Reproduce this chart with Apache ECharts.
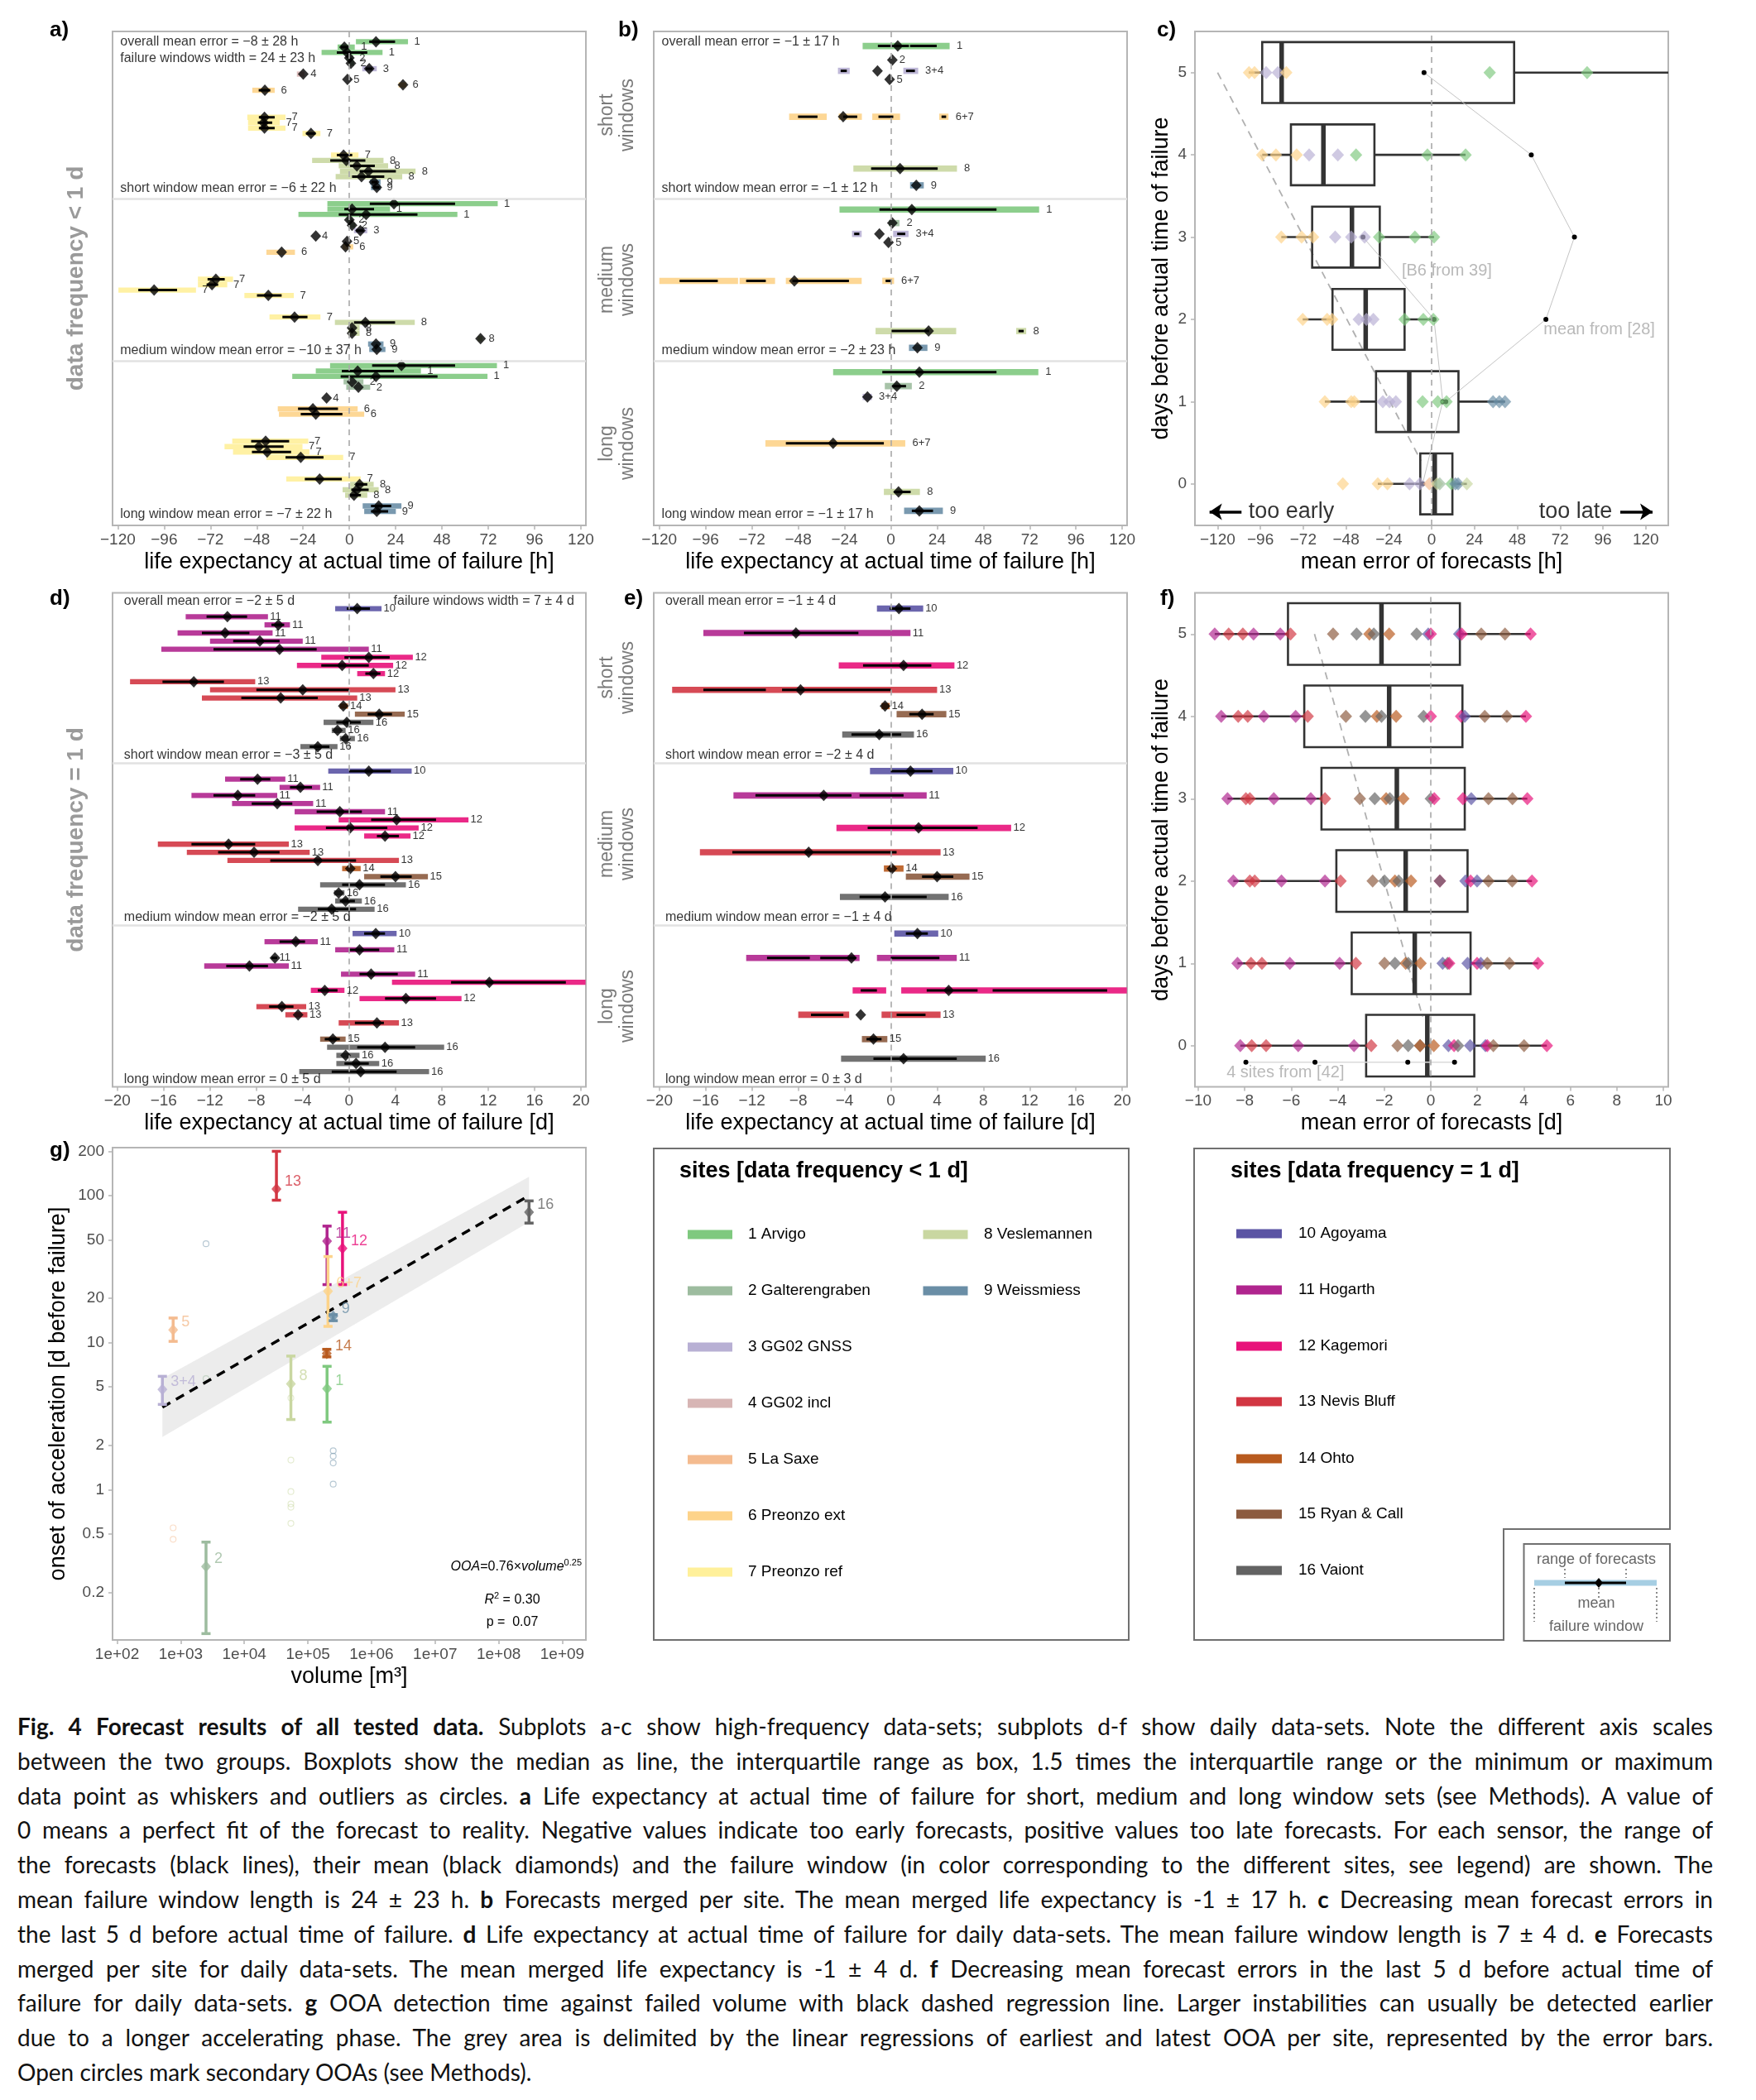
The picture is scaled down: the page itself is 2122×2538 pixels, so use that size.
<!DOCTYPE html>
<html><head><meta charset="utf-8">
<script src="https://cdn.jsdelivr.net/npm/echarts@6/dist/echarts.min.js"></script>
<style>
html,body{margin:0;padding:0;background:#fff;}
#chart{width:2122px;height:2060px;}
#caption{position:absolute;left:21px;top:2066px;width:2049px;font-family:Lato,"Liberation Sans",sans-serif;font-size:28px;line-height:41.8px;color:#111;}
#caption div{text-align:justify;text-align-last:justify;}
#caption div.last{text-align:left;text-align-last:left;}
</style></head><body>
<div id="chart"></div>
<div id="caption">
<div><b>Fig. 4 Forecast results of all tested data.</b> Subplots a-c show high-frequency data-sets; subplots d-f show daily data-sets. Note the different axis scales</div>
<div>between the two groups. Boxplots show the median as line, the interquartile range as box, 1.5 times the interquartile range or the minimum or maximum</div>
<div>data point as whiskers and outliers as circles. <b>a</b> Life expectancy at actual time of failure for short, medium and long window sets (see Methods). A value of</div>
<div>0 means a perfect fit of the forecast to reality. Negative values indicate too early forecasts, positive values too late forecasts. For each sensor, the range of</div>
<div>the forecasts (black lines), their mean (black diamonds) and the failure window (in color corresponding to the different sites, see legend) are shown. The</div>
<div>mean failure window length is 24 ± 23 h. <b>b</b> Forecasts merged per site. The mean merged life expectancy is -1 ± 17 h. <b>c</b> Decreasing mean forecast errors in</div>
<div>the last 5 d before actual time of failure. <b>d</b> Life expectancy at actual time of failure for daily data-sets. The mean failure window length is 7 ± 4 d. <b>e</b> Forecasts</div>
<div>merged per site for daily data-sets. The mean merged life expectancy is -1 ± 4 d. <b>f</b> Decreasing mean forecast errors in the last 5 d before actual time of</div>
<div>failure for daily data-sets. <b>g</b> OOA detection time against failed volume with black dashed regression line. Larger instabilities can usually be detected earlier</div>
<div>due to a longer accelerating phase. The grey area is delimited by the linear regressions of earliest and latest OOA per site, represented by the error bars.</div>
<div class="last">Open circles mark secondary OOAs (see Methods).</div>
</div>
<script>
// ---------------- DATA ----------------
const siteColors = {1:'#7fc97f',2:'#9dbc9f',3:'#b8b0d4',4:'#d7b5b4',5:'#f4bb8f',6:'#fdd38a',7:'#fff09a',8:'#c9d7a1',9:'#6a8ea6',
  10:'#5b54a4',11:'#b0258e',12:'#e8127a',13:'#d23642',14:'#b85a1e',15:'#8c5b3f',16:'#636363'};
const sitesHigh = ['1 Arvigo','2 Galterengraben','3 GG02 GNSS','4 GG02 incl','5 La Saxe','6 Preonzo ext','7 Preonzo ref','8 Veslemannen','9 Weissmiess'];
const sitesDaily = ['10 Agoyama','11 Hogarth','12 Kagemori','13 Nevis Bluff','14 Ohto','15 Ryan & Call','16 Vaiont'];
const hTicks = [-120,-96,-72,-48,-24,0,24,48,72,96,120];
const dTicks = [-20,-16,-12,-8,-4,0,4,8,12,16,20];
const fTicks = [-10,-8,-6,-4,-2,0,2,4,6,8,10];
const dayTicks = [0,1,2,3,4,5];
const gxTicks = [2,3,4,5,6,7,8,9];
const gyTickVals = [0.2,0.5,1,2,5,10,20,50,100,200];

// panel a rows: [row, site, windowLo, windowHi, forecastLo, forecastHi, mean]
const aRows = [
 [0,1,3.4,30.4,10.3,23.7,13.8],[1,1,-6.1,2.8,-4.5,-0.5,-2.6],[2,1,-14.4,17.2,-6.5,9.3,-1.2],
 [3,2,-1.5,2.0,null,null,0],[4,2,-0.5,2.5,null,null,0.8],[5,3,6.7,14.2,8.5,12,10.3],
 [6,4,-27.2,-23.3,null,null,-23.9],[7,5,null,null,null,null,-1],[8,6,25.5,29.5,null,null,27.8],
 [9,6,-50.3,-38.7,-47,-41,-43.8],[14,7,-52.9,-33.1,-46.9,-38.7,-44],[15,7,-52.5,-36.1,-47.5,-40,-44.4],
 [16,7,-52.5,-33.1,-46.9,-38.7,-44],[17,7,-24.3,-15,-22.5,-17.5,-19.9],[21,7,-9.5,4.7,-6.5,1.5,-3],
 [22,8,-19.3,17.7,-9.9,8.3,-1.6],[23,8,-5.5,20.1,0.4,13.2,3.9],[24,8,-4.9,34.3,5.3,24.1,9.9],
 [25,8,-7.1,27.4,1.4,18.1,6.3],[26,9,10.6,16.2,11.5,14.5,12.8],[27,9,11.2,16.2,12.5,15.5,14.2],
 [30,1,-11.4,76.9,10.6,54.8,23.1],[31,1,-11.4,21.1,-2.6,12.8,1.4],[32,1,-26.4,56,-5.5,35.3,8.7],
 [33,2,-1.2,1.5,null,null,0],[34,2,-0.5,3,null,null,1.4],[35,3,2.4,9.3,3.5,7.5,5.7],
 [36,4,null,null,null,null,-17.4],[37,5,null,null,null,null,-1.2],[38,6,-3.5,2.0,null,null,-2],
 [39,6,-43,-28.2,null,null,-35.1],[44,7,-78.5,-60.3,-73.5,-64.6,-69.2],[45,7,-78.5,-63.3,-74,-68,-71.2],
 [46,7,-119.7,-79.5,-109.4,-89.3,-101.2],[47,7,-54.4,-28.8,-47.9,-35.1,-42],[51,7,-41.4,-15,-34.7,-21.7,-28.4],
 [52,8,-7.5,33.9,2.4,23.7,8.3],[53,8,-0.6,5.3,null,null,1.4],[54,8,-0.6,5.3,null,null,1.4],
 [55,8,66.5,69,null,null,68],[56,9,9.7,17.7,null,null,13.8],[57,9,10.3,18.7,null,null,14.2],
 [60,1,-10,76.5,11.8,54.8,27],[61,1,-17.4,37.1,-3.9,23.1,4.3],[62,1,-29.6,71.6,-4.5,45.7,13.8],
 [63,2,-3,7.3,null,null,1.4],[64,2,-1.6,10.8,null,null,4.7],[66,4,null,null,null,null,-11.8],
 [68,6,-37.1,4.3,-26.6,-5.9,-18.9],[69,6,-36.5,7.7,-25.2,-3.6,-17.4],[74,7,-60.7,-21.3,-50.9,-31.2,-43.4],
 [75,7,-64.7,-24.3,-54.8,-34.1,-46.9],[76,7,-60.3,-20.7,-50.5,-30.2,-42.6],[77,7,-43,-3.2,-33.1,-13.4,-25.2],
 [81,7,-32.7,5.9,-23.1,-3.9,-15.4],[82,8,0.4,12.6,3.4,9.3,5.3],[83,8,-3.5,15.2,1,10,3.9],
 [84,8,-2.2,9.3,0,6,2.4],[86,9,6.9,27,11.2,21.7,15.2],[87,9,7.7,24.1,11.2,20.1,14.2]
];
const aSections = [29.1, 59.2];
const aTexts = [[-119,0,'overall mean error = \u22128 \u00b1 28 h'],[-119,3.1,'failure windows width = 24 \u00b1 23 h'],
 [-119,27.1,'short window mean error = \u22126 \u00b1 22 h'],[-119,57.2,'medium window mean error = \u221210 \u00b1 37 h'],
 [-119,87.5,'long window mean error = \u22127 \u00b1 22 h']];

// panel b: windows [row, site, lo, hi], ranges [row, lo, hi], means [row, mean, label]
const bWindows = [
 [0.8,1,-14.6,30.5],[5.4,3,-27.4,-21.3],[5.4,3,6.5,14.2],[13.9,6,-52.7,-33.2],[13.9,6,-27,-15],[13.9,6,-9.6,4.8],[13.9,6,25.1,29.9],
 [23.5,8,-19.4,34.3],[26.6,9,10,17.1],
 [31.1,1,-26.6,76.9],[33.6,2,-1,4.5],[35.6,3,-20.1,-15.1],[35.6,3,1.2,9.2],[44.3,6,-120,-79.2],[44.3,6,-78.4,-60],[44.3,6,-54.4,-15.1],[44.3,6,-4.4,1.7],
 [53.6,8,-7.9,33.9],[53.6,8,65,70.2],[56.7,9,9.4,19],
 [61.2,1,-29.9,76.5],[63.8,2,-3.1,10.9],[65.8,3,-14.6,-9.8],[74.4,6,-65,7.5],[83.4,8,-3.6,15.1],[86.9,9,6.9,27]
];
const bRanges = [
 [0.8,-6.7,9.4],[0.8,10,23.8],[5.4,-26,-22.8],[5.4,7.9,12.5],[13.9,-48.1,-38],[13.9,-24.7,-17.4],[13.9,-6.4,1.3],[13.9,26.3,28.7],
 [23.5,-10.2,24.3],[31.1,-5.9,54.8],[35.6,-19,-16.3],[35.6,3.3,7.5],[44.3,-109.5,-89.7],[44.3,-75,-64.8],[44.3,-51,-21.7],[44.3,-2.7,0.2],
 [53.6,0.4,19.9],[53.6,66.2,68.9],[61.2,-4.4,54.8],[63.8,0.8,7.9],[74.4,-54.4,-3.6],[83.4,1.7,10.3],[86.9,10.9,21.9]
];
const bMeans = [
 [0.8,3.6,'1'],[3.4,0.8,'2'],[5.4,-6.9,'3+4'],[7.0,-0.6,'5'],[13.9,-24.7,'6+7'],[23.5,4.8,'8'],[26.6,13.2,'9'],
 [31.1,10.9,'1'],[33.6,0.8,'2'],[35.6,-5.9,'3+4'],[37.2,-1.2,'5'],[44.3,-50,'6+7'],[53.6,19.6,'8'],[56.7,13.8,'9'],
 [61.2,14.8,'1'],[63.8,3.1,'2'],[65.8,-12.1,'3+4'],[74.4,-29.9,'6+7'],[83.4,4,'8'],[86.9,14.8,'9']
];
const bTexts = [[-119,0,'overall mean error = \u22121 \u00b1 17 h'],[-119,27.1,'short window mean error = \u22121 \u00b1 12 h'],
 [-119,57.2,'medium window mean error = \u22122 \u00b1 23 h'],[-119,87.5,'long window mean error = \u22121 \u00b1 17 h']];

// panel c: boxes [day, min, q1, median, q3, max], points [day, error, site]
const cBoxes = [[5,-102.5,-95,-84.1,46.2,150],[4,-95,-78.9,-60.7,-32.1,19],[3,-84.3,-67,-44.7,-29.1,1.3],
 [2,-72.3,-55.6,-37,-15.2,1.3],[1,-59.9,-31.2,-12.6,15,41.1],[0,-30.2,-6.4,1.7,11.6,19.7]];
const cPoints = [
 [5,-102.4,6],[5,-99.3,6],[5,-92.8,3],[5,-86.2,3],[5,-81.5,6],[5,32.5,1],[5,87.1,1],
 [4,-95,6],[4,-87.3,6],[4,-75.7,6],[4,-68.7,3],[4,-52.6,3],[4,-42.4,1],[4,-2.4,1],[4,19,1],
 [3,-84.3,6],[3,-72.9,6],[3,-66.5,6],[3,-54.1,3],[3,-45.1,3],[3,-37.6,3],[3,-29.5,1],[3,-9.4,1],[3,1.3,1],
 [2,-72.3,6],[2,-58.6,6],[2,-55.8,6],[2,-40.9,3],[2,-36.6,3],[2,-32.7,3],[2,-15.2,1],[2,-4.7,1],[2,0.9,1],
 [1,-59.9,6],[1,-45.1,6],[1,-43.4,6],[1,-27.4,3],[1,-23.7,3],[1,-20.1,3],[1,-5.1,1],[1,3.4,1],[1,8.3,1],[1,34.4,9],[1,37.9,9],[1,41.1,9],
 [0,-49.8,6],[0,-30.2,6],[0,-24.8,6],[0,-12.4,3],[0,-6.6,3],[0,-1.3,5],[0,3,8],[0,4.5,2],[0,11.1,1],[0,13.3,9],[0,14.8,9],[0,19.7,8]
];
const cMean28 = [[-4.3,5],[55.8,4],[80,3],[64,2],[7.9,1]];
const cB6 = [[-38.5,3],[1.3,2],[6.2,1],[-5.1,0]];
const cTrend = [[-120,5],[-6,0.28]];

// panel d rows: [row, site, windowLo, windowHi, forecastLo, forecastHi, mean]
const dRows = [
 [0,10,-1.2,2.8,-0.2,1.8,0.7],[1,11,-14.1,-7.0,-12.3,-8.8,-10.5],[2,11,-7.3,-5.1,-6.7,-5.6,-6.1],[3,11,-14.8,-6.6,-12.7,-8.6,-10.7],
 [4,11,-12,-4,-10,-6,-7.7],[5,11,-16.2,1.7,-11.7,-2.8,-6],[6,12,-2.4,5.5,-0.4,3.5,1.7],[7,12,-4.5,3.8,-2.4,1.7,-0.6],
 [8,12,0.7,3.1,1.4,2.7,2.1],[9,13,-18.9,-8.1,-16.1,-10.8,-13.4],[10,13,-12,4,-8,0,-4],[11,13,-12.7,0.7,-9.3,-2.7,-5.9],
 [12,14,-0.8,-0.1,null,null,-0.5],[13,15,0.5,4.8,1.6,3.7,2.6],[14,16,-2.2,2.1,-1.1,1.0,-0.2],[15,16,-1.5,-0.3,null,null,-1],
 [16,16,-0.8,0.5,null,null,-0.3],[17,16,-4.2,-1,-3.4,-1.7,-2.7],
 [20,10,-1.8,5.4,0,3.6,1.7],[21,11,-10.7,-5.5,-9.4,-6.8,-7.9],[22,11,-6,-2.5,-5.1,-3.2,-4.2],[23,11,-13.6,-6.2,-11.7,-8.1,-9.6],
 [24,11,-10.1,-3.1,-8.4,-4.9,-6.2],[25,11,-4.7,3.1,-2.8,1.1,-0.8],[26,12,-0.9,10.3,1.9,7.5,4.1],[27,12,-4.7,6,-2,3.3,0.1],
 [28,12,1.3,5.3,2.4,4.3,3.1],[29,13,-16.5,-5.2,-13.6,-8.1,-10.4],[30,13,-14,-3.4,-11.3,-6,-8.2],[31,13,-10.5,4.3,-6.8,0.6,-2.7],
 [32,14,-0.6,1,null,null,0.1],[33,15,1.3,6.8,2.7,5.4,4],[34,16,-2.5,4.9,-0.6,3.1,0.9],[35,16,-1.3,-0.4,null,null,-0.9],
 [36,16,-1.2,1.1,-0.8,0.5,-0.3],[37,16,-4.4,2.2,-2.7,0.6,-1.5],
 [40,10,0.3,4.1,1.3,3.1,2.3],[41,11,-7.3,-2.7,-6,-3.8,-4.6],[42,11,-1.2,3.9,0,2.6,0.9],[43,11,null,null,-6.7,-6.2,-6.4],
 [44,11,-12.5,-5.2,-10.6,-7,-8.6],[45,11,-0.7,5.7,0.9,4.2,1.9],[46,12,3.7,20.4,8.8,18.7,12.1],[47,12,-3.3,-0.4,-2.7,-1,-2.1],
 [48,12,0.9,9.7,3.1,7.5,4.9],[49,13,-8,-3.7,-6.9,-4.8,-5.8],[50,13,-5.5,-3.6,null,null,-4.4],[51,13,-0.9,4.3,0.5,3,2.4],
 [53,15,-2.5,-0.3,-2.1,-0.8,-1.4],[54,16,-1.9,8.2,0.7,5.7,3.1],[55,16,-1.1,0.9,null,null,-0.3],[56,16,-1.1,2.6,-0.4,1.7,0.6],
 [57,16,-4.3,6.9,-1.5,4.1,1]
];
const dSections = [19, 39];
const dTexts = [[-19.46,-0.9,'overall mean error = \u22122 \u00b1 5 d'],[-19.46,18,'short window mean error = \u22123 \u00b1 5 d'],
 [-19.46,38,'medium window mean error = \u22122 \u00b1 5 d'],[-19.46,58,'long window mean error = 0 \u00b1 5 d']];
const dTextsRight = [[19.45,-0.9,'failure windows width = 7 \u00b1 4 d']];

// panel e
const eWindows = [
 [0,10,-1.2,2.8],[3,11,-16.2,1.7],[7,12,-4.5,5.5],[10,13,-18.9,4],[12,14,-0.8,-0.1],[13,15,0.5,4.8],[15.5,16,-4.2,2],
 [20,10,-1.8,5.4],[23,11,-13.6,3.1],[27,12,-4.7,10.4],[30,13,-16.5,4.3],[32,14,-0.6,1.1],[33,15,1.3,6.8],[35.5,16,-4.4,5],
 [40,10,0.3,4.1],[43,11,-12.5,-2.7],[43,11,-1.2,5.7],[47,12,-3.3,-0.4],[47,12,0.9,20.4],[50,13,-8,-3.6],[50,13,-0.8,4.3],
 [53,15,-2.5,-0.3],[55.4,16,-4.3,8.2]
];
const eRanges = [
 [0,-0.1,1.7],[3,-12.7,-2.8],[7,-2.4,3.5],[10,-16.2,-10.8],[10,-9.4,0],[13,1.6,3.7],[15.5,-3.4,0.9],
 [20,0,3.6],[23,-11.7,-3.4],[23,-2.7,1.1],[27,-2,7.5],[30,-13.7,0.5],[33,2.7,5.4],[35.5,-2.7,3.1],
 [40,1.3,3.2],[43,-10.7,-7],[43,-6.1,-3],[43,0,4.2],[47,-2.6,-1.2],[47,3.1,7.5],[47,8.8,18.7],[50,-6.9,-4.1],[50,0.5,3],
 [53,-2.1,-0.8],[55.4,-1.5,5.7]
];
const eMeans = [
 [0,0.7,'10'],[3,-8.2,'11'],[7,1.1,'12'],[10,-7.8,'13'],[12,-0.5,'14'],[13,2.7,'15'],[15.5,-1,'16'],
 [20,1.7,'10'],[23,-5.8,'11'],[27,2.4,'12'],[30,-7.1,'13'],[32,0.1,'14'],[33,4,'15'],[35.5,-0.5,'16'],
 [40,2.3,'10'],[43,-3.4,'11'],[47,5,'12'],[50,-2.6,'13'],[53,-1.5,'15'],[55.4,1.1,'16']
];
const eTexts = [[-19.53,-0.9,'overall mean error = \u22121 \u00b1 4 d'],[-19.53,18,'short window mean error = \u22122 \u00b1 4 d'],
 [-19.53,38,'medium window mean error = \u22121 \u00b1 4 d'],[-19.53,58,'long window mean error = 0 \u00b1 3 d']];

// panel f
const fBoxes = [[5,-9.29,-6.14,-2.12,1.25,4.29],[4,-9.01,-5.44,-1.79,1.36,4.09],[3,-8.74,-4.7,-1.46,1.46,4.15],
 [2,-8.49,-4.06,-1.08,1.58,4.35],[1,-8.31,-3.4,-0.69,1.71,4.61],[0,-8.19,-2.78,-0.15,1.87,4.99]];
const fPoints = [
 [5,-9.29,11],[5,-8.69,13],[5,-8.08,13],[5,-7.62,11],[5,-6.47,11],[5,-6.03,13],[5,-4.2,15],[5,-3.19,16],[5,-2.64,14],[5,-2.45,16],[5,-1.79,14],[5,-0.61,16],[5,-0.11,10],[5,0,12],[5,1.22,10],[5,1.33,12],[5,2.17,15],[5,3.19,15],[5,4.29,12],
 [4,-9.01,11],[4,-8.28,13],[4,-7.87,13],[4,-7.18,11],[4,-5.81,11],[4,-5.29,13],[4,-3.65,15],[4,-2.81,16],[4,-2.32,14],[4,-2.12,16],[4,-1.49,14],[4,-0.31,16],[4,0,12],[4,1.3,12],[4,1.46,10],[4,2.32,15],[4,3.27,15],[4,4.09,12],
 [3,-8.74,11],[3,-7.95,13],[3,-7.78,13],[3,-6.75,11],[3,-5.16,11],[3,-4.55,13],[3,-3.05,15],[3,-2.41,16],[3,-1.92,14],[3,-1.76,16],[3,-1.18,14],[3,0,16],[3,0.15,12],[3,1.38,12],[3,1.74,10],[3,2.48,15],[3,3.51,15],[3,4.15,12],
 [2,-8.49,11],[2,-7.78,13],[2,-7.57,13],[2,-6.42,11],[2,-4.55,11],[2,-3.88,13],[2,-2.5,15],[2,-1.99,16],[2,-1.54,14],[2,-1.38,16],[2,-0.85,14],[2,0.39,12],[2,0.39,16],[2,1.49,10],[2,1.71,12],[2,1.99,10],[2,2.48,15],[2,3.5,15],[2,4.35,12],
 [1,-8.31,11],[1,-7.73,13],[1,-7.26,13],[1,-6.06,11],[1,-3.92,11],[1,-3.22,13],[1,-1.99,15],[1,-1.54,16],[1,-1.08,14],[1,-0.97,16],[1,-0.44,14],[1,0.51,10],[1,0.72,16],[1,0.79,12],[1,1.58,10],[1,1.99,12],[1,2.15,10],[1,2.43,15],[1,3.38,15],[1,4.61,12],
 [0,-8.19,11],[0,-7.7,13],[0,-7.08,13],[0,-5.7,11],[0,-3.3,11],[0,-2.56,13],[0,-1.43,15],[0,-0.97,16],[0,-0.46,16],[0,-0.46,14],[0,0.13,14],[0,0.76,10],[0,1.0,12],[0,1.17,16],[0,1.69,10],[0,2.35,10],[0,2.43,12],[0,2.69,15],[0,4.01,15],[0,4.99,12]
];
const fSites42 = [[-7.95,-0.2],[-4.98,-0.2],[-0.99,-0.2],[1.02,-0.2]];
const fTrend = [[-5,5],[-0.35,0.35]];

// panel g: [label, site, volume m3, OOA d, earliest, latest]
const gSites = [
 ['13',13,3.2e4,111,93,200],['11',11,2.0e5,49,24.8,62],['12',12,3.5e5,43.8,24.8,77],['6+7',6,2.07e5,22.4,12.9,38.5],
 ['9',9,2.5e5,15.1,14.1,15.5],['5',5,760,12.2,10.2,14.7],['14',14,1.98e5,8.45,8.0,9.0],['3+4',3,515,4.8,3.8,5.9],
 ['8',8,5.4e4,5.25,3.0,8.1],['1',1,2.0e5,4.86,2.88,6.9],['2',2,2.5e3,0.3,0.105,0.44],['16',16,3.0e8,77,65,92]
];
// secondary OOAs: [volume, OOA, site]
const gSecondary = [[2.5e3,47,9],[2.5e3,5.7,2],[760,0.55,5],[760,0.46,5],
 [5.4e4,4.2,8],[5.4e4,1.59,8],[5.4e4,0.97,8],[5.4e4,0.8,8],[5.4e4,0.76,8],[5.4e4,0.59,8],
 [2.5e5,1.84,9],[2.5e5,1.69,9],[2.5e5,1.52,9],[2.5e5,1.09,9]];
const gFit = [[515,3.64],[3.0e8,100]];
const gBand = [[515,2.28,5.7],[3.0e8,66,134]];

// ---------------- HELPERS ----------------
const FONT = '"Liberation Sans", Arial, Helvetica, sans-serif';
const L10 = Math.log10;
function rgba(hex, a){const n=parseInt(hex.slice(1),16);return 'rgba('+(n>>16&255)+','+(n>>8&255)+','+(n&255)+','+a+')';}
const minus = v => { const r = Math.round(v*100)/100; return r < 0 ? '\u2212' + (-r) : String(r); };

const TOP1 = 38, TOP2 = 716.5, TOP3 = 1387, PH = 597;
const grids = [
 {left:136, top:TOP1, width:572, height:PH},
 {left:790, top:TOP1, width:572, height:PH},
 {left:1444, top:TOP1, width:572, height:PH},
 {left:136, top:TOP2, width:572, height:PH},
 {left:790, top:TOP2, width:572, height:PH},
 {left:1444, top:TOP2, width:572, height:PH},
 {left:136, top:TOP3, width:572, height:595}
].map(g => Object.assign({show:true, borderColor:'#b5b5b5', borderWidth:2, backgroundColor:'transparent'}, g));

function xAx(gi, min, max, ticks, fmt, name, gap){
  return {type:'value', gridIndex:gi, min, max, position:'bottom', axisLine:{show:false, onZero:false}, splitLine:{show:false},
    axisTick:{show:true, customValues:ticks, length:5, lineStyle:{color:'#b5b5b5', width:1.5}},
    axisLabel:{customValues:ticks, formatter:fmt, fontSize:19, color:'#4d4d4d', margin:8, fontFamily:FONT},
    name, nameLocation:'middle', nameGap:gap, nameTextStyle:{fontSize:27, color:'#000', fontFamily:FONT}};
}
function rowAx(gi, min, max, name){
  return {type:'value', gridIndex:gi, inverse:true, min, max, position:'left', axisLine:{show:false, onZero:false}, axisTick:{show:false},
    axisLabel:{show:false}, splitLine:{show:false}, name: name || '', nameLocation:'middle', nameGap:30,
    nameTextStyle:{fontSize:28, fontWeight:'bold', color:'#9a9a9a', fontFamily:FONT}};
}
function dayAx(gi, name, gap, ticks, fmt, min, max){
  return {type:'value', gridIndex:gi, min, max, position:'left', axisLine:{show:false, onZero:false}, splitLine:{show:false},
    axisTick:{show:true, customValues:ticks, length:5, lineStyle:{color:'#b5b5b5', width:1.5}},
    axisLabel:{customValues:ticks, formatter:fmt, fontSize:19, color:'#4d4d4d', margin:10, fontFamily:FONT},
    name, nameLocation:'middle', nameGap:gap, nameTextStyle:{fontSize:27, color:'#000', fontFamily:FONT}};
}

function hbarRender(height, colorFn){
  return function(params, api){
    const row = api.value(0), lo = api.value(2), hi = api.value(3);
    const p1 = api.coord([lo, row]), p2 = api.coord([hi, row]);
    const cs = params.coordSys;
    const r = echarts.graphic.clipRectByRect({x:Math.min(p1[0],p2[0]), y:p1[1]-height/2, width:Math.abs(p2[0]-p1[0]), height},
      {x:cs.x, y:cs.y, width:cs.width, height:cs.height});
    if (!r) return null;
    return {type:'rect', shape:r, style:{fill:colorFn(api.value(1))}};
  };
}
function windowSeries(gi, data, h){
  return {type:'custom', xAxisIndex:gi, yAxisIndex:gi, silent:true, z:2, encode:{x:[2,3], y:0}, data,
    renderItem:hbarRender(h, s => rgba(siteColors[s], 0.9))};
}
function rangeSeries(gi, data){
  return {type:'custom', xAxisIndex:gi, yAxisIndex:gi, silent:true, z:3, encode:{x:[2,3], y:0},
    data: data.map(r => [r[0], 0, r[1], r[2]]), renderItem:hbarRender(3, () => '#000')};
}
function diamondSeries(gi, data, size){
  return {type:'scatter', xAxisIndex:gi, yAxisIndex:gi, silent:true, z:4, symbol:'diamond', symbolSize:[size, size+1],
    itemStyle:{color:'#000'}, data};
}
function labelSeries(gi, data, fontSize, dist, pos, color){
  return {type:'scatter', xAxisIndex:gi, yAxisIndex:gi, silent:true, z:5, symbolSize:1, itemStyle:{color:'transparent'},
    data, label:{show:true, position:pos||'right', distance:dist, fontSize, color:color||'#000', fontFamily:FONT,
      formatter:p => p.value[2]}};
}
function refLines(gi, xZero, ySections){
  const d = [];
  if (xZero) d.push({xAxis:0, lineStyle:{type:[7,6], color:'#a8a8a8', width:1.6}});
  (ySections||[]).forEach(y => d.push({yAxis:y, lineStyle:{type:'solid', color:'#e2e2e2', width:2.5}}));
  return {type:'scatter', xAxisIndex:gi, yAxisIndex:gi, silent:true, z:1, symbolSize:0, data:[],
    markLine:{silent:true, symbol:'none', label:{show:false}, data:d, animation:false}};
}
function boxSeries(gi, data, half){
  return {type:'custom', xAxisIndex:gi, yAxisIndex:gi, silent:true, z:2, clip:true, encode:{x:[1,5], y:0}, data,
    renderItem:function(params, api){
      const y = api.value(0);
      const pMin = api.coord([api.value(1), y]), pQ1 = api.coord([api.value(2), y]), pMd = api.coord([api.value(3), y]);
      const pQ3 = api.coord([api.value(4), y]), pMax = api.coord([api.value(5), y]);
      const hh = api.size([0, half*2])[1] / 2;
      const st = {stroke:'#333', lineWidth:2.6, fill:null};
      return {type:'group', children:[
        {type:'line', shape:{x1:pMin[0], y1:pMin[1], x2:pQ1[0], y2:pQ1[1]}, style:st},
        {type:'line', shape:{x1:pQ3[0], y1:pQ3[1], x2:pMax[0], y2:pMax[1]}, style:st},
        {type:'rect', shape:{x:pQ1[0], y:pQ1[1]-hh, width:pQ3[0]-pQ1[0], height:2*hh}, style:{stroke:'#333', lineWidth:2.6, fill:'none'}},
        {type:'line', shape:{x1:pMd[0], y1:pMd[1]-hh, x2:pMd[0], y2:pMd[1]+hh}, style:{stroke:'#333', lineWidth:5.5}}
      ]};
    }};
}
function coloredDiamonds(gi, pts, size, alpha){
  return {type:'scatter', xAxisIndex:gi, yAxisIndex:gi, silent:true, z:4, symbol:'diamond', symbolSize:[size, size+1],
    data: pts.map(p => ({value:[p[1], p[0]], itemStyle:{color:rgba(siteColors[p[2]], alpha)}}))};
}
function rowPanel(gi, rows, h, dsize, lDist, xMaxLabel){
  const win = rows.filter(r => r[2] != null).map(r => [r[0], r[1], r[2], r[3]]);
  const rng = rows.filter(r => r[4] != null).map(r => [r[0], r[4], r[5]]);
  const means = rows.map(r => [r[6], r[0]]);
  const labels = rows.map(r => { const xs = [r[3], r[5], r[6]].filter(v => v != null); return [Math.max.apply(null, xs), r[0], String(r[1])]; })
    .filter(l => l[0] < xMaxLabel);
  return [windowSeries(gi, win, h), rangeSeries(gi, rng), diamondSeries(gi, means, dsize), labelSeries(gi, labels, 13, lDist)];
}
function mergedPanel(gi, wins, rngs, means, h, dsize, lDist, xMaxLabel){
  const labels = means.map(m => {
    let x = m[1];
    wins.forEach(w => { if (w[0] === m[0]) x = Math.max(x, w[3]); });
    rngs.forEach(r => { if (r[0] === m[0]) x = Math.max(x, r[2]); });
    return [x, m[0], m[2]];
  }).filter(l => l[0] < xMaxLabel);
  return [windowSeries(gi, wins, h), rangeSeries(gi, rngs), diamondSeries(gi, means.map(m => [m[1], m[0]]), dsize), labelSeries(gi, labels, 13, lDist)];
}

// ---------------- OPTION ----------------
const hFmt = v => minus(v);
const gxFmt = v => { const k = Math.round(v); return '1e+' + (k < 10 ? '0' : '') + k; };
const gyFmt = v => { let best = gyTickVals[0]; gyTickVals.forEach(g => { if (Math.abs(L10(g) - v) < Math.abs(L10(best) - v)) best = g; }); return String(best); };

const xAxes = [
  xAx(0, -122.75, 122.6, hTicks, hFmt, 'life expectancy at actual time of failure [h]', 31),
  xAx(1, -122.9, 122.5, hTicks, hFmt, 'life expectancy at actual time of failure [h]', 31),
  xAx(2, -132.7, 132.6, hTicks, hFmt, 'mean error of forecasts [h]', 31),
  xAx(3, -20.41, 20.43, dTicks, hFmt, 'life expectancy at actual time of failure [d]', 31),
  xAx(4, -20.49, 20.42, dTicks, hFmt, 'life expectancy at actual time of failure [d]', 31),
  xAx(5, -10.14, 10.21, fTicks, hFmt, 'mean error of forecasts [d]', 31),
  xAx(6, 1.928, 9.371, gxTicks, gxFmt, 'volume [m\u00b3]', 31)
];
const yAxes = [
  rowAx(0, -1.9, 89.6, 'data frequency < 1 d'),
  rowAx(1, -1.9, 89.6, ''),
  dayAx(2, 'days before actual time of failure', 27, dayTicks, v => String(Math.round(v)), -0.505, 5.5),
  rowAx(3, -1.94, 58.87, 'data frequency = 1 d'),
  rowAx(4, -1.94, 58.87, ''),
  dayAx(5, 'days before actual time of failure', 27, dayTicks, v => String(Math.round(v)), -0.5, 5.5),
  dayAx(6, 'onset of acceleration [d before failure]', 52, gyTickVals.map(L10), gyFmt, -1.022, 2.326)
];

let series = [];
// a
series.push(refLines(0, true, aSections));
series = series.concat(rowPanel(0, aRows, 6.3, 13, 7, 200));
series.push(labelSeries(0, aTexts, 16, 0));
// b
series.push(refLines(1, true, aSections));
series = series.concat(mergedPanel(1, bWindows, bRanges, bMeans, 7.6, 13, 8, 200));
series.push(labelSeries(1, bTexts, 16, 0));
// c
series.push(refLines(2, true, []));
series.push({type:'line', xAxisIndex:2, yAxisIndex:2, silent:true, z:1, symbol:'none', data:cTrend,
  lineStyle:{color:'#b0b0b0', width:1.8, type:[9,7]}});
series.push(boxSeries(2, cBoxes, 0.37));
series.push({type:'line', xAxisIndex:2, yAxisIndex:2, silent:true, z:3, symbol:'circle', symbolSize:6, data:cMean28,
  lineStyle:{color:'#c4c4c4', width:1}, itemStyle:{color:'#000'}});
series.push({type:'line', xAxisIndex:2, yAxisIndex:2, silent:true, z:3, symbol:'circle', symbolSize:6, data:cB6,
  lineStyle:{color:'#c4c4c4', width:1}, itemStyle:{color:'#000'}});
series.push(coloredDiamonds(2, cPoints, 15, 0.85));
series.push(labelSeries(2, [[-17,2.59,'[B6 from 39]'],[62.5,1.87,'mean from [28]']], 20, 0, 'right', '#a8a8a8'));
series.push(labelSeries(2, [[-102.9,-0.34,'too early']], 27, 0, 'right', '#000'));
series.push(labelSeries(2, [[101.4,-0.34,'too late']], 27, 0, 'left', '#000'));
series.push({type:'lines', coordinateSystem:'cartesian2d', xAxisIndex:2, yAxisIndex:2, silent:true, z:5,
  symbol:['none','arrow'], symbolSize:15, lineStyle:{color:'#000', width:3.5, opacity:1},
  data:[{coords:[[-106.6,-0.34],[-124.5,-0.34]]},{coords:[[105.7,-0.34],[123.8,-0.34]]}]});
// d
series.push(refLines(3, true, dSections));
series = series.concat(rowPanel(3, dRows, 6.3, 13, 2, 19.5));
series.push(labelSeries(3, dTexts, 16, 0));
series.push(labelSeries(3, dTextsRight, 16, 0, 'left'));
// e
series.push(refLines(4, true, dSections));
series = series.concat(mergedPanel(4, eWindows, eRanges, eMeans, 7.6, 13, 2, 19.5));
series.push(labelSeries(4, eTexts, 16, 0));
// f
series.push(refLines(5, true, []));
series.push({type:'line', xAxisIndex:5, yAxisIndex:5, silent:true, z:1, symbol:'none', data:fTrend,
  lineStyle:{color:'#b0b0b0', width:1.8, type:[9,7]}});
series.push(boxSeries(5, fBoxes, 0.375));
series.push(coloredDiamonds(5, fPoints, 15, 0.85));
series.push({type:'line', xAxisIndex:5, yAxisIndex:5, silent:true, z:3, symbol:'circle', symbolSize:6, data:fSites42,
  lineStyle:{color:'#dadada', width:1.5}, itemStyle:{color:'#000'}});
series.push(labelSeries(5, [[-8.8,-0.33,'4 sites from [42]']], 20, 0, 'right', '#a8a8a8'));
// g
series.push({type:'custom', xAxisIndex:6, yAxisIndex:6, silent:true, z:1, data:[0], encode:{x:0},
  renderItem:function(params, api){
    const top = gBand.map(b => api.coord([L10(b[0]), L10(b[2])]));
    const bot = gBand.map(b => api.coord([L10(b[0]), L10(b[1])])).reverse();
    return {type:'polygon', shape:{points: top.concat(bot)}, style:{fill:'rgba(200,200,200,0.35)'}};
  }});
series.push({type:'line', xAxisIndex:6, yAxisIndex:6, silent:true, z:3, symbol:'none',
  data:gFit.map(p => [L10(p[0]), L10(p[1])]), lineStyle:{color:'#000', width:3.5, type:[11,8]}});
series.push({type:'scatter', xAxisIndex:6, yAxisIndex:6, silent:true, z:2, symbol:'circle', symbolSize:7,
  data:gSecondary.map(p => ({value:[L10(p[0]), L10(p[1])], itemStyle:{color:'transparent', borderColor:rgba(siteColors[p[2]],0.6), borderWidth:1.2}}))});
series.push({type:'custom', xAxisIndex:6, yAxisIndex:6, silent:true, z:4, encode:{x:0, y:[2,3]},
  data:gSites.map(s => [L10(s[2]), L10(s[3]), L10(s[4]), L10(s[5]), s[1]]),
  renderItem:function(params, api){
    const x = api.value(0), c = siteColors[api.value(4)];
    const pLo = api.coord([x, api.value(2)]), pHi = api.coord([x, api.value(3)]);
    const st = {stroke:c, lineWidth:3.5};
    return {type:'group', children:[
      {type:'line', shape:{x1:pLo[0], y1:pLo[1], x2:pHi[0], y2:pHi[1]}, style:st},
      {type:'line', shape:{x1:pLo[0]-5.5, y1:pLo[1], x2:pLo[0]+5.5, y2:pLo[1]}, style:st},
      {type:'line', shape:{x1:pHi[0]-5.5, y1:pHi[1], x2:pHi[0]+5.5, y2:pHi[1]}, style:st}
    ]};
  }});
series.push({type:'scatter', xAxisIndex:6, yAxisIndex:6, silent:true, z:5, symbol:'diamond', symbolSize:[12,14],
  data:gSites.map(s => ({value:[L10(s[2]), L10(s[3]), s[0]], itemStyle:{color:siteColors[s[1]]},
    label:{show:true, position:'right', distance:4, offset:[0,-9], formatter:s[0], color:siteColors[s[1]], fontSize:18, fontFamily:FONT}}))});

// ---------------- GRAPHIC (titles, legend boxes) ----------------
function txt(x, y, text, o){
  o = o || {};
  return {type:'text', x, y, rotation:o.rot || 0, silent:true, z:100, style:{text, fill:o.color||'#000',
    fontSize:o.size||19, fontWeight:o.weight||'normal', fontFamily:o.font||FONT, fontStyle:o.style||'normal',
    align:o.align||'left', textAlign:o.align||'left', verticalAlign:'middle', textVerticalAlign:'middle',
    lineHeight:o.lh, rich:o.rich}};
}
const graphic = [];
[['a)',60,37],['b)',747,37],['c)',1398,37],['d)',60,724],['e)',754,724],['f)',1402,724],['g)',60,1391]]
  .forEach(p => graphic.push(txt(p[1], p[2], p[0], {size:26, weight:'bold'})));
[['short\nwindows',139],['medium\nwindows',338],['long\nwindows',536]].forEach(p =>
  graphic.push(txt(746, p[1], p[0], {size:23, color:'#7a7a7a', align:'center', rot:Math.PI/2, lh:25})));
[['short\nwindows',819],['medium\nwindows',1020],['long\nwindows',1216]].forEach(p =>
  graphic.push(txt(746, p[1], p[0], {size:23, color:'#7a7a7a', align:'center', rot:Math.PI/2, lh:25})));
// g annotations
graphic.push(txt(703, 1894, '{i|OOA}=0.76\u00d7{i|volume}{s|0.25}', {size:16, align:'right',
  rich:{i:{fontStyle:'italic', fontSize:16, fontFamily:FONT}, s:{fontSize:11, verticalAlign:'top', padding:[0,0,10,0], fontFamily:FONT}}}));
graphic.push(txt(619, 1934, '{i|R}{s|2} = 0.30', {size:16, align:'center',
  rich:{i:{fontStyle:'italic', fontSize:16, fontFamily:FONT}, s:{fontSize:11, padding:[0,0,10,0], fontFamily:FONT}}}));
graphic.push(txt(619, 1961, 'p =  0.07', {size:16, align:'center'}));
// legend 1
graphic.push({type:'rect', silent:true, shape:{x:790, y:1388, width:574, height:594}, style:{fill:'none', stroke:'#707070', lineWidth:2}});
graphic.push(txt(821, 1416, 'sites [data frequency < 1 d]', {size:27, weight:'bold'}));
const leg1Rows = [1492,1560,1628,1696,1764,1832,1900];
sitesHigh.forEach((name, i) => {
  const col = i < 7 ? 0 : 1, r = i < 7 ? i : i - 7;
  const sx = col ? 1115.5 : 831, tx = col ? 1189 : 904, y = leg1Rows[r];
  graphic.push({type:'rect', silent:true, shape:{x:sx, y:y-5.5, width:54, height:11}, style:{fill:siteColors[i+1]}});
  graphic.push(txt(tx, y, name, {size:19}));
});
// legend 2
graphic.push({type:'polygon', silent:true, shape:{points:[[1443,1388],[2018,1388],[2018,1848],[1817,1848],[1817,1982],[1443,1982]]},
  style:{fill:'none', stroke:'#707070', lineWidth:2}});
graphic.push(txt(1487, 1416, 'sites [data frequency = 1 d]', {size:27, weight:'bold'}));
const leg2Rows = [1491,1559,1627,1694,1763,1830,1898];
sitesDaily.forEach((name, i) => {
  const y = leg2Rows[i];
  graphic.push({type:'rect', silent:true, shape:{x:1494, y:y-5.5, width:55, height:11}, style:{fill:siteColors[i+10]}});
  graphic.push(txt(1569, y, name, {size:19}));
});
// key box
graphic.push({type:'rect', silent:true, shape:{x:1841.5, y:1866, width:176.5, height:117}, style:{fill:'#fff', stroke:'#707070', lineWidth:2}});
graphic.push(txt(1929, 1885, 'range of forecasts', {size:18, color:'#666', align:'center'}));
graphic.push({type:'rect', silent:true, shape:{x:1854, y:1909.5, width:148, height:7}, style:{fill:'#a6cee3'}});
graphic.push({type:'line', silent:true, shape:{x1:1891, y1:1913, x2:1965, y2:1913}, style:{stroke:'#000', lineWidth:3}});
graphic.push({type:'polygon', silent:true, shape:{points:[[1932,1907],[1937,1913],[1932,1919],[1927,1913]]}, style:{fill:'#000'}});
[[1891,1896,1907],[1965,1896,1907],[1932,1919,1931],[1854,1919,1960],[2002,1919,1960]].forEach(l =>
  graphic.push({type:'line', silent:true, shape:{x1:l[0], y1:l[1], x2:l[0], y2:l[2]}, style:{stroke:'#666', lineWidth:1.5, lineDash:[2,3]}}));
graphic.push(txt(1929, 1938, 'mean', {size:18, color:'#666', align:'center'}));
graphic.push(txt(1929, 1966, 'failure window', {size:18, color:'#666', align:'center'}));

const chart = echarts.init(document.getElementById('chart'), null, {renderer:'canvas', width:2122, height:2060});
chart.setOption({
  animation:false,
  backgroundColor:'#fff',
  textStyle:{fontFamily:FONT},
  grid:grids, xAxis:xAxes, yAxis:yAxes, series, graphic
});

// fit caption lines
document.querySelectorAll('#caption div:not(.last)').forEach(d => {
  d.style.whiteSpace = 'nowrap';
  let fs = 28;
  while (d.scrollWidth > d.clientWidth && fs > 16) { fs -= 0.25; d.style.fontSize = fs + 'px'; }
  d.style.whiteSpace = 'normal';
});
</script>
</body></html>
